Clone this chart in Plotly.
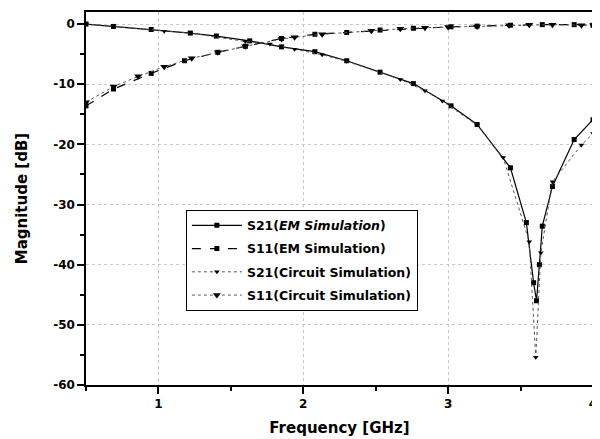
import plotly.graph_objects as go

# S21 EM simulation (solid, squares)
s21_em_f = [0.5, 0.69, 0.95, 1.22, 1.4, 1.63, 1.85, 2.08, 2.3, 2.53, 2.76, 3.02, 3.2, 3.43, 3.54, 3.59, 3.61, 3.63, 3.65, 3.72, 3.87, 4.0]
s21_em_db = [0.0, -0.4, -0.9, -1.5, -2.0, -2.8, -3.8, -4.6, -6.1, -8.0, -9.9, -13.6, -16.7, -23.9, -33.0, -43.0, -46.0, -40.0, -33.6, -27.0, -19.2, -15.9]

# S11 EM simulation (dashed, squares)
s11_em_f = [0.5, 0.69, 0.95, 1.18, 1.41, 1.6, 1.85, 2.08, 2.3, 2.53, 2.76, 3.02, 3.2, 3.43, 3.65, 3.87, 4.0]
s11_em_db = [-13.6, -10.8, -8.2, -6.1, -4.7, -3.7, -2.4, -1.7, -1.4, -1.0, -0.7, -0.45, -0.35, -0.2, -0.1, -0.1, -0.2]

# S21 circuit simulation (dotted, triangles)
s21_ci_f = [0.5, 0.69, 1.04, 1.22, 1.6, 1.77, 1.94, 2.13, 2.3, 2.67, 2.84, 2.96, 3.2, 3.38, 3.56, 3.605, 3.64, 3.72, 3.92, 4.0]
s21_ci_db = [0.0, -0.4, -1.2, -1.5, -2.9, -3.3, -4.2, -5.1, -6.2, -9.2, -11.1, -12.8, -16.8, -22.2, -36.2, -55.4, -38.0, -26.2, -20.1, -18.2]

# S11 circuit simulation (dotted, triangles)
s11_ci_f = [0.5, 0.69, 0.86, 1.04, 1.23, 1.41, 1.6, 1.85, 1.94, 2.13, 2.47, 2.67, 2.84, 3.0, 3.2, 3.42, 3.56, 3.72, 3.92, 4.0]
s11_ci_db = [-13.0, -10.4, -8.7, -7.1, -5.7, -4.7, -3.7, -2.5, -2.2, -1.7, -1.1, -0.8, -0.6, -0.5, -0.4, -0.2, -0.1, -0.1, -0.2, -0.2]

x_ticks = [1, 2, 3, 4]
y_ticks = [0, -10, -20, -30, -40, -50, -60]

fig = go.Figure()
fig.add_trace(go.Scatter(x=s21_em_f, y=s21_em_db, name="S21(<i>EM Simulation</i>)", mode="lines+markers",
                         legendgroup="a",
                         line=dict(color="black", width=1.2),
                         marker=dict(symbol="square", size=5, color="black")))
fig.add_trace(go.Scatter(x=s11_em_f, y=s11_em_db, name="S11(EM Simulation)", mode="lines+markers",
                         legendgroup="b",
                         line=dict(color="black", width=1.2, dash="dash"),
                         marker=dict(symbol="square", size=5, color="black")))
fig.add_trace(go.Scatter(x=s21_ci_f, y=s21_ci_db, name="S21(Circuit Simulation)", mode="lines+markers",
                         legendgroup="c",
                         line=dict(color="#555", width=1, dash="dot"),
                         marker=dict(symbol="triangle-down", size=5, color="black")))
fig.add_trace(go.Scatter(x=s11_ci_f, y=s11_ci_db, name="S11(Circuit Simulation)", mode="lines+markers",
                         legendgroup="d",
                         line=dict(color="#555", width=1, dash="dot"),
                         marker=dict(symbol="triangle-down", size=7, color="black")))

axis_common = dict(showline=True, linecolor="black", linewidth=1.5, mirror=True,
                   ticks="outside", ticklen=7, tickwidth=1.5, tickcolor="black",
                   showgrid=True, gridcolor="#c8c8c8", griddash="dot", gridwidth=1,
                   zeroline=False,
                   tickfont=dict(family="DejaVu Sans", size=12, color="black", weight="bold"))

title_font = dict(family="DejaVu Sans", size=15, color="black", weight="bold")

fig.update_xaxes(range=[0.5, 4], tickvals=x_ticks, ticktext=[str(v) for v in x_ticks],
                 minor=dict(dtick=0.5, tick0=0.5, ticks="outside", ticklen=4, tickcolor="black", showgrid=False),
                 title=dict(text="Frequency [GHz]", standoff=12, font=title_font),
                 **axis_common)
fig.update_yaxes(range=[-60, 2], tickvals=y_ticks, ticktext=[str(v) for v in y_ticks],
                 minor=dict(dtick=5, tick0=0, ticks="outside", ticklen=4, tickcolor="black", showgrid=False),
                 title=dict(text="Magnitude [dB]", standoff=22, font=title_font),
                 **axis_common)

fig.update_layout(width=592, height=431, margin=dict(l=78, r=7, t=2, b=54),
                  plot_bgcolor="white", paper_bgcolor="white",
                  legend=dict(x=0.197, y=0.47, xanchor="left", yanchor="top",
                              bordercolor="black", borderwidth=1, bgcolor="white",
                              itemwidth=50, traceorder="grouped", tracegroupgap=4,
                              font=dict(family="DejaVu Sans", size=12.5, color="black", weight="bold")))

fig.write_html("out.html")
